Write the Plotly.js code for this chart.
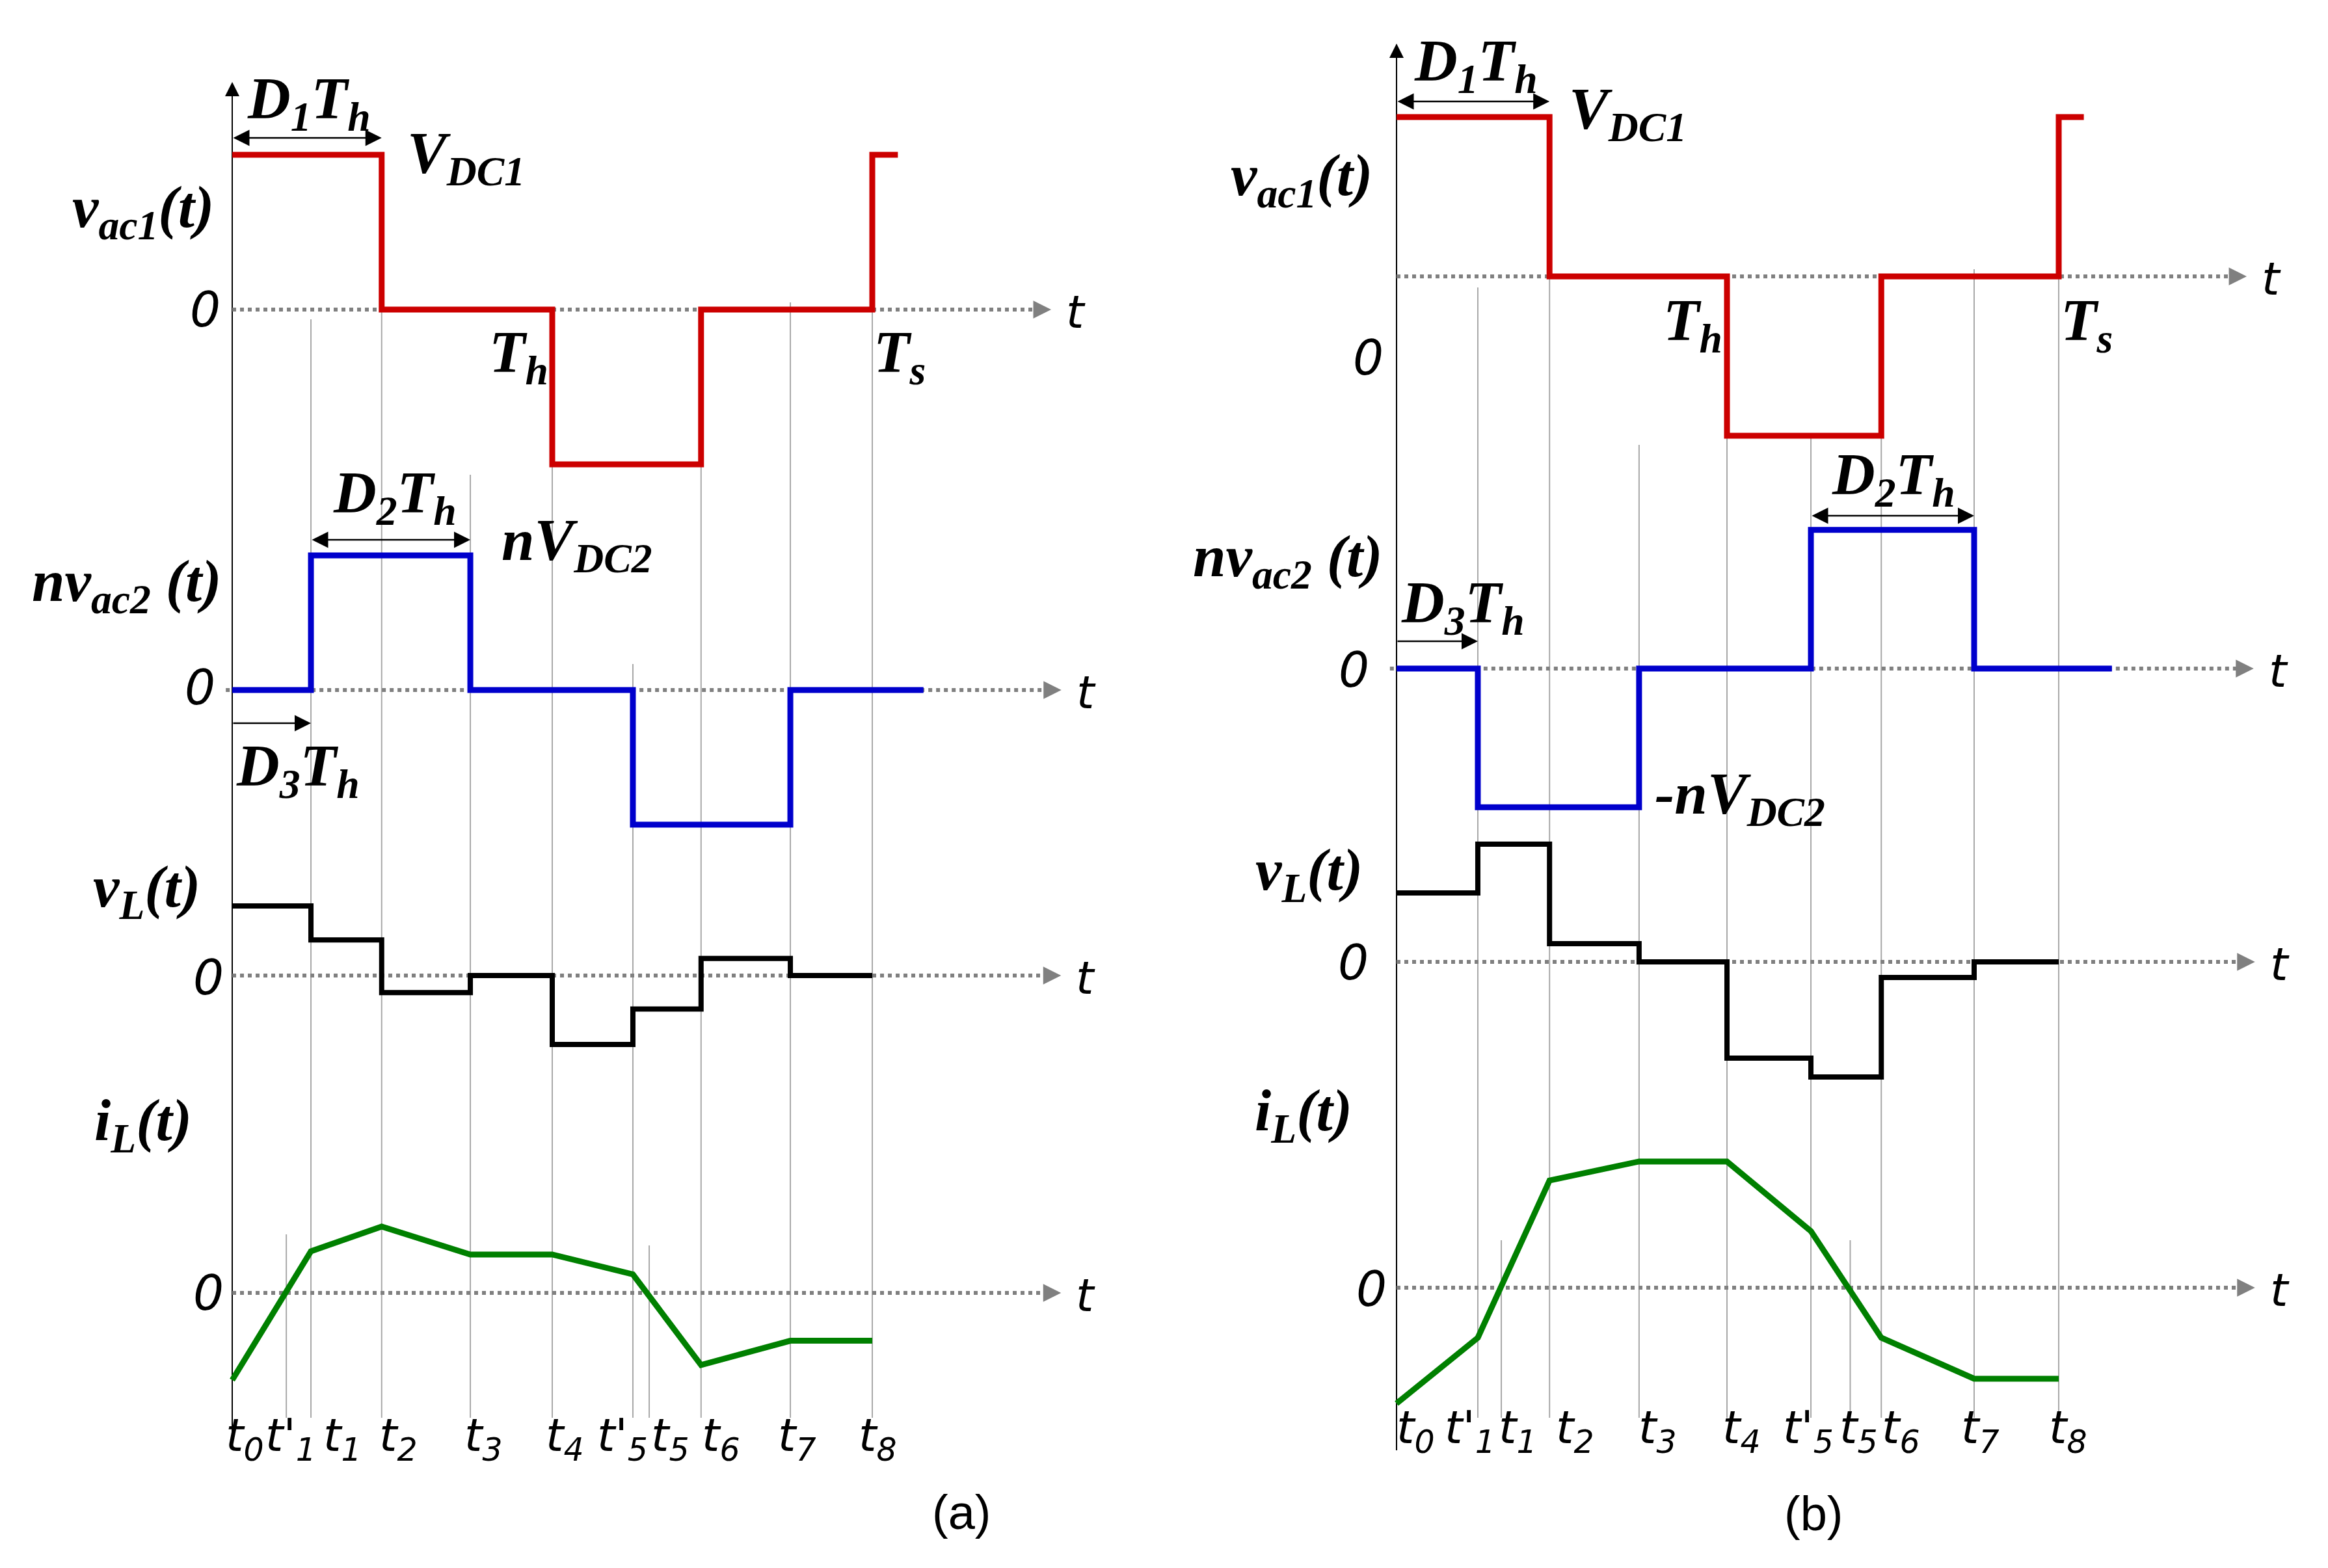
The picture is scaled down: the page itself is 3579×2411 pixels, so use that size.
<!DOCTYPE html>
<html><head><meta charset="utf-8">
<script src="https://cdn.plot.ly/plotly-3.0.1.min.js"></script>
<style>html,body{margin:0;padding:0;background:#fff}#chart{width:3579px;height:2411px}</style>
</head><body><div id="chart"></div>
<script>
// ================= DATA =================
// time instants (normalised, Th = 1, Ts = 2)
const timeLabels = ["t<sub>0</sub>","t'<sub>1</sub>","t<sub>1</sub>","t<sub>2</sub>","t<sub>3</sub>","t<sub>4</sub>","t'<sub>5</sub>","t<sub>5</sub>","t<sub>6</sub>","t<sub>7</sub>","t<sub>8</sub>"];
const timesA = [0, 0.169, 0.246, 0.467, 0.744, 1.0, 1.252, 1.303, 1.465, 1.744, 2.0];
const timesB = [0, 0.246, 0.317, 0.463, 0.734, 1.0, 1.254, 1.373, 1.467, 1.748, 2.004];

// panel (a) waveforms
const vac1A_t  = [0, 0.467, 1.0, 1.465, 2.0, 2.08];
const vac1A_v  = [1, 0, -1, 0, 1, 1];
const nvac2A_t = [0, 0.246, 0.744, 1.252, 1.744, 2.16];
const nvac2A_v = [0, 0.87, 0, -0.87, 0, 0];
const vLA_t    = [0, 0.246, 0.467, 0.744, 1.0, 1.252, 1.465, 1.744, 2.0];
const vLA_v    = [0.45, 0.23, -0.11, 0, -0.445, -0.216, 0.11, 0, 0];
const iLA_t    = [0, 0.246, 0.467, 0.744, 1.0, 1.252, 1.465, 1.744, 2.0];
const iLA_v    = [-0.563, 0.269, 0.429, 0.248, 0.248, 0.12, -0.466, -0.309, -0.309];

// panel (b) waveforms
const vac1B_t  = [0, 0.463, 1.0, 1.467, 2.004, 2.08];
const vac1B_v  = [1, 0, -1, 0, 1, 1];
const nvac2B_t = [0, 0.246, 0.734, 1.254, 1.748, 2.165];
const nvac2B_v = [0, -0.87, 0, 0.87, 0, 0];
const vLB_t    = [0, 0.246, 0.463, 0.734, 1.0, 1.254, 1.467, 1.748, 2.004];
const vLB_v    = [0.433, 0.739, 0.114, 0, -0.604, -0.722, -0.098, 0, 0];
const iLB_t    = [0, 0.246, 0.463, 0.734, 1.0, 1.254, 1.467, 1.748, 2.004];
const iLB_v    = [-0.727, -0.314, 0.673, 0.792, 0.792, 0.355, -0.314, -0.571, -0.571];

// text labels
const lblD1 = "D<sub>1</sub>T<sub>h</sub>", lblD2 = "D<sub>2</sub>T<sub>h</sub>", lblD3 = "D<sub>3</sub>T<sub>h</sub>";
const lblVDC1 = "V<sub>DC1</sub>", lblNVDC2 = "nV<sub>DC2</sub>", lblNegNVDC2 = "-nV<sub>DC2</sub>";
const lblVac1 = "v<sub>ac1</sub>(t)", lblNvac2 = "nv<sub>ac2</sub> (t)", lblVL = "v<sub>L</sub>(t)", lblIL = "i<sub>L</sub>(t)";
const lblTh = "T<sub>h</sub>", lblTs = "T<sub>s</sub>";

// ================= LAYOUT CONSTANTS =================
const W = 3579, H = 2411;
const PY = p => 1 - p / H, PX = p => p / W;
const RED = '#cc0000', BLUE = '#0000cc', BLACK = '#000000', GREEN = '#008000', GRAY = '#808080', GRID = '#a8a8a8';

const PA = { x0: 357, th: 492, dom: [0, 1789], s: 238,
  zeros: [476, 1061, 1500, 1988], bands: [[0, 790], [790, 1330], [1330, 1720], [1720, 2411]],
  zStart: [0, -0.02, 0, 0], zEnd: [2.559, 2.591, 2.59, 2.59],
  axisTop: 126, axisBot: 2225, gridBot: 2180,
  gridTop: [null, 1898, 491, 477, 730, 477, 1021, 1915, 681, 465, 465],
  lblShift: [19, 7, 48, 26, 20, 19, -16, 32, 31, 10, 8], lblY: 2212 };
const PB = { x0: 2147, th: 508, dom: [1790, 3579], s: 245,
  zeros: [425, 1028, 1479, 1980], bands: [[0, 760], [760, 1265], [1265, 1720], [1720, 2411]],
  zStart: [0, -0.02, 0, 0], zEnd: [2.573, 2.594, 2.598, 2.598],
  axisTop: 67, axisBot: 2230, gridBot: 2180,
  gridTop: [null, 442, 1907, 425, 684, 425, 672, 1907, 425, 414, 414],
  lblShift: [29, -12, 25, 39, 29, 22, -4, 13, 30, 10, 14], lblY: 2200 };

const layout = { width: W, height: H, margin: {l:0, r:0, t:0, b:0}, showlegend: false,
  paper_bgcolor: '#ffffff', plot_bgcolor: 'rgba(0,0,0,0)', shapes: [], annotations: [] };

function setupPanel(P, xName, yNames) {
  const xa = { domain: [P.dom[0]/W, P.dom[1]/W], range: [(P.dom[0]-P.x0)/P.th, (P.dom[1]-P.x0)/P.th],
    visible: false, fixedrange: true, anchor: yNames[0] };
  layout[xName.replace('x', 'xaxis')] = xa;
  yNames.forEach((yn, i) => {
    const [top, bot] = P.bands[i], z = P.zeros[i];
    layout[yn.replace('y', 'yaxis')] = { domain: [1 - bot/H, 1 - top/H], range: [(z - bot)/P.s, (z - top)/P.s],
      visible: false, fixedrange: true, anchor: xName };
  });
}
setupPanel(PA, 'x', ['y', 'y2', 'y3', 'y4']);
setupPanel(PB, 'x2', ['y5', 'y6', 'y7', 'y8']);

// ================= TRACES =================
function wave(t, v, xa, ya, color, width, shape) {
  return { type: 'scatter', mode: 'lines', x: t, y: v, xaxis: xa, yaxis: ya,
    line: { color: color, width: width, shape: shape }, hoverinfo: 'skip', cliponaxis: false };
}
const data = [
  wave(vac1A_t, vac1A_v, 'x', 'y', RED, 9, 'hv'),
  wave(nvac2A_t, nvac2A_v, 'x', 'y2', BLUE, 9, 'hv'),
  wave(vLA_t, vLA_v, 'x', 'y3', BLACK, 8, 'hv'),
  wave(iLA_t, iLA_v, 'x', 'y4', GREEN, 9, 'linear'),
  wave(vac1B_t, vac1B_v, 'x2', 'y5', RED, 9, 'hv'),
  wave(nvac2B_t, nvac2B_v, 'x2', 'y6', BLUE, 9, 'hv'),
  wave(vLB_t, vLB_v, 'x2', 'y7', BLACK, 8, 'hv'),
  wave(iLB_t, iLB_v, 'x2', 'y8', GREEN, 9, 'linear')
];

// ================= DECORATIONS =================
const mathFont = { family: 'Liberation Serif, Times New Roman, serif', size: 91, color: '#000' };
const zeroFont = { family: 'DejaVu Sans, Liberation Sans, sans-serif', size: 74, color: '#000' };
const tFont = { family: 'DejaVu Sans, Liberation Sans, sans-serif', size: 70, color: '#000' };
const tickFont = { family: 'DejaVu Sans, Liberation Sans, sans-serif', size: 70, color: '#000' };
const capFont = { family: 'Liberation Sans Narrow, Liberation Sans, Arial, sans-serif', size: 74, color: '#000' };

function txt(text, xp, yp, font) {
  return { text: text, xref: 'paper', yref: 'paper', x: PX(xp), y: PY(yp), showarrow: false,
    xanchor: 'center', yanchor: 'middle', font: font };
}
function mathTxt(text, xp, yp) { return txt('<b><i>' + text + '</i></b>', xp, yp, mathFont); }

function decoratePanel(P, times, xName, yNames) {
  // vertical grid lines through the time instants
  times.forEach((t, i) => {
    if (i === 0) return;
    layout.shapes.push({ type: 'line', xref: xName, yref: 'paper', x0: t, x1: t,
      y0: PY(P.gridTop[i]), y1: PY(P.gridBot), line: { color: GRID, width: 2 }, layer: 'below' });
  });
  // vertical axis
  layout.shapes.push({ type: 'line', xref: xName, yref: 'paper', x0: times[0], x1: times[0],
    y0: PY(P.axisTop + 12), y1: PY(P.axisBot), line: { color: '#000', width: 2 }, layer: 'below' });
  layout.annotations.push({ text: '', xref: xName, yref: 'paper', x: times[0], y: PY(P.axisTop),
    axref: 'pixel', ayref: 'pixel', ax: 0, ay: 30, showarrow: true, arrowhead: 2, arrowwidth: 2,
    arrowsize: 2.2, arrowcolor: '#000' });
  // dotted zero lines with arrowheads
  yNames.forEach((yn, i) => {
    layout.shapes.push({ type: 'line', xref: xName, yref: yn, x0: P.zStart[i], x1: P.zEnd[i] - 0.03,
      y0: 0, y1: 0, line: { color: GRAY, width: 6, dash: 'dot' }, layer: 'below' });
    layout.annotations.push({ text: '', xref: xName, yref: yn, x: P.zEnd[i], y: 0,
      axref: 'pixel', ayref: 'pixel', ax: -26, ay: 0, showarrow: true, arrowhead: 2,
      arrowwidth: 5, arrowsize: 1.1, arrowcolor: GRAY });
    layout.annotations.push({ text: '<i>t</i>', xref: xName, yref: yn, x: P.zEnd[i], y: 0,
      xshift: 38, yshift: -4, showarrow: false, xanchor: 'center', yanchor: 'middle', font: tFont });
  });
  // time labels
  times.forEach((t, i) => {
    layout.annotations.push({ text: '<i>' + timeLabels[i] + '</i>', xref: xName, yref: 'paper', x: t,
      y: PY(P.lblY), xshift: P.lblShift[i], showarrow: false, xanchor: 'center', yanchor: 'middle',
      font: tickFont });
  });
}
decoratePanel(PA, timesA, 'x', ['y', 'y2', 'y3', 'y4']);
decoratePanel(PB, timesB, 'x2', ['y5', 'y6', 'y7', 'y8']);

function dimArrow(xName, tFrom, tTo, yp, both) {
  layout.annotations.push({ text: '', xref: xName, yref: 'paper', x: tTo, y: PY(yp),
    axref: xName, ayref: 'pixel', ax: tFrom, ay: 0, showarrow: true,
    arrowside: both ? 'end+start' : 'end', arrowhead: 2, startarrowhead: 2,
    arrowwidth: 2.5, arrowsize: 2, startarrowsize: 2, arrowcolor: '#000' });
}
// panel (a) dimension arrows
dimArrow('x', timesA[0], timesA[3], 212, true);
dimArrow('x', timesA[2], timesA[4], 830, true);
dimArrow('x', timesA[0], timesA[2], 1112, false);
// panel (b) dimension arrows
dimArrow('x2', timesB[0], timesB[3], 156, true);
dimArrow('x2', timesB[6], timesB[9], 793, true);
dimArrow('x2', timesB[0], timesB[1], 986, false);

// panel (a) labels
layout.annotations.push(
  mathTxt(lblD1, 475, 158), mathTxt(lblVDC1, 716, 242), mathTxt(lblVac1, 220, 325),
  txt('<i>0</i>', 315, 476, zeroFont), mathTxt(lblTh, 797, 548), mathTxt(lblTs, 1383, 548),
  mathTxt(lblD2, 607, 764), mathTxt(lblNVDC2, 887, 837), mathTxt(lblNvac2, 195, 900),
  txt('<i>0</i>', 307, 1057, zeroFont), mathTxt(lblD3, 458, 1184), mathTxt(lblVL, 225, 1370),
  txt('<i>0</i>', 320, 1503, zeroFont), mathTxt(lblIL, 220, 1729), txt('<i>0</i>', 320, 1988, zeroFont),
  txt('(a)', 1478, 2325, capFont)
);
// panel (b) labels
layout.annotations.push(
  mathTxt(lblD1, 2269, 100), mathTxt(lblVDC1, 2502, 174), mathTxt(lblVac1, 2001, 276),
  txt('<i>0</i>', 2103, 550, zeroFont), mathTxt(lblTh, 2602, 499), mathTxt(lblTs, 3208, 499),
  mathTxt(lblD2, 2911, 736), mathTxt(lblNvac2, 1980, 862), mathTxt(lblD3, 2249, 933),
  txt('<i>0</i>', 2081, 1030, zeroFont), mathTxt(lblNegNVDC2, 2675, 1227), mathTxt(lblVL, 2012, 1344),
  txt('<i>0</i>', 2080, 1480, zeroFont), mathTxt(lblIL, 2004, 1714), txt('<i>0</i>', 2108, 1982, zeroFont),
  txt('(b)', 2788, 2327, capFont)
);

Plotly.newPlot('chart', data, layout, { staticPlot: true, displayModeBar: false });
</script>
</body></html>
